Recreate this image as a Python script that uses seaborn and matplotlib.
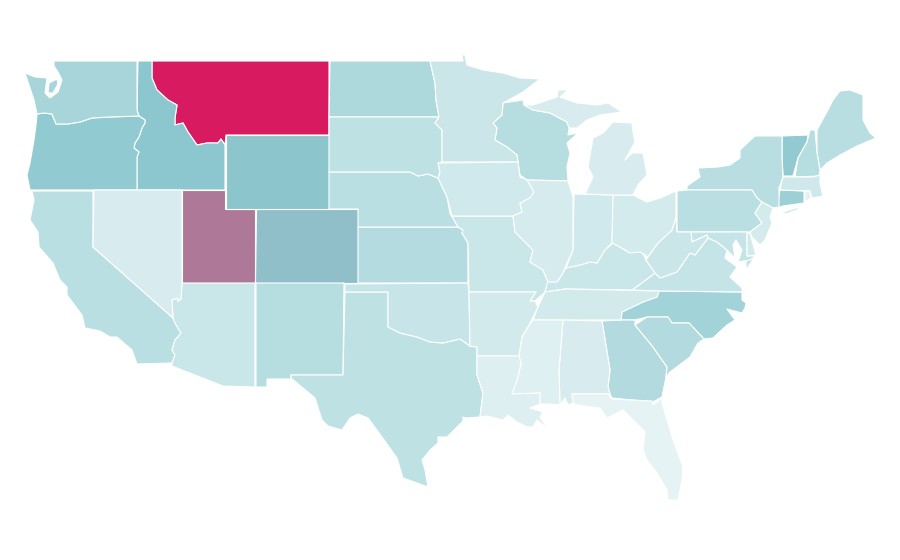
"""Choropleth of the lower 48 states, outlines traced by hand from the reference."""
import matplotlib
matplotlib.use("Agg")
import matplotlib.pyplot as plt
import seaborn as sns

# ── data ─────────────────────────────────────────────────────────────────────
STATES = ["MT","UT","CO","WY","ID","OR","VT","WA","ND","NC","CT","KS","GA","SC","NM","WI",
          "NY","ME","NH","PA","NE","CA","TX","SD","VA","MD","OK","AZ","MO","KY","MN","WV",
          "IN","IA","MA","AR","TN","DE","OH","NJ","IL","NV","MI","AL","MS","LA","RI","FL"]
VALUES = [100, 75, 53, 51, 50, 47, 47, 35, 31, 38, 41, 27, 28, 28, 26, 26,
          25, 25, 26, 24, 24, 24, 22, 22, 18, 18, 17, 16, 16, 16, 15, 15,
          12, 12, 13, 11, 11, 11, 10, 10, 9, 8, 8, 8, 4, 5, 1, 0]
STOPS = ["#E6F3F5", "#B8DEE1", "#8CC8CF", "#AE7999", "#D81B60"]

# outlines, in image pixels
SHAPES = {
 "WA": [[(54,61),(137,61),(137,110),(139,116),(109,117),(92,118),(80,122),(68,124),(56,124),(52,114),(44,113),(37,114),
         (34,100),(29,85),(25,73),(35,77),(47,78),(45,93),(50,98),(58,92),(62,80),(58,72),(54,66)],
        [(49,83),(57,79),(58,84),(53,93),(48,93)]],
 "OR": [[(37,114),(44,113),(52,114),(56,124),(68,124),(80,122),(92,118),(109,117),(139,116),(145,120),(145,123),(142,128),
         (139,137),(135,143),(134,148),(139,152),(137,157),(137,190),(30,190),(27,175),(30,163),(34,140),(36,125)]],
 "ID": [[(138,61),(152,61),(152,78),(157,90),(168,100),(177,105),(175,118),(175,125),(183,123),(188,132),(197,145),
         (207,143),(218,143),(221,139),(225,145),(225,190),(137,190),(137,157),(139,152),(134,148),(135,143),(139,137),
         (142,128),(145,123),(145,120),(139,116),(137,110)]],
 "MT": [[(152,61),(329,61),(329,135),(226,135),(225,145),(221,139),(218,143),(207,143),(197,145),(188,132),(183,123),
         (175,125),(175,118),(177,105),(168,100),(157,90),(152,78)]],
 "WY": [[(226,135),(329,135),(329,209),(226,209)]],
 "CO": [[(256,209),(358,209),(358,283),(255,283)]],
 "UT": [[(182,190),(225,190),(225,209),(255,209),(255,283),(182,283)]],
 "NV": [[(94,190),(182,190),(182,283),(181,299),(178,301),(177,298),(172,300),(173,318),(93,247)]],
 "CA": [[(32,191),(93,191),(93,247),(173,318),(175,323),(181,333),(175,340),(172,350),(175,355),(172,363),(137,364),
         (132,350),(117,337),(110,337),(100,331),(85,328),(82,315),(67,295),(67,287),(60,280),(55,268),(53,263),(39,247),
         (38,232),(30,220),(34,200)]],
 "AZ": [[(182,283),(255,283),(255,387),(223,386),(172,366),(172,363),(175,355),(172,350),(175,340),(181,333),(175,323),
         (173,318),(172,300),(177,298),(178,301),(181,299)]],
 "NM": [[(256,283),(344,283),(343,375),(291,375),(291,379),(267,379),(267,387),(256,387)]],
 "TX": [[(345,292),(388,292),(388,327),(400,333),(417,337),(430,342),(443,343),(460,339),(470,346),(477,347),(477,375),
         (483,393),(480,417),(466,418),(463,417),(463,421),(447,437),(438,437),(438,443),(430,450),(422,460),(425,470),
         (428,487),(417,483),(403,478),(397,458),(382,437),(368,418),(358,414),(350,418),(342,430),(328,426),(322,420),
         (315,398),(291,378),(291,375),(343,375)]],
 "OK": [[(345,284),(468,283),(469,292),(470,346),(460,339),(443,343),(430,342),(417,337),(400,333),(388,327),(388,292),(345,292)]],
 "KS": [[(358,227),(458,227),(463,230),(462,233),(468,243),(468,283),(358,283)]],
 "NE": [[(329,172),(410,172),(418,176),(428,174),(438,178),(447,197),(450,213),(458,227),(358,227),(358,209),(329,209)]],
 "SD": [[(329,117),(439,117),(435,123),(442,130),(442,162),(438,163),(440,172),(438,178),(428,174),(418,176),(410,172),(329,172)]],
 "ND": [[(330,61),(430,61),(435,83),(436,100),(439,117),(329,117)]],
 "MN": [[(430,61),(463,61),(462,55),(465,55),(467,65),(483,70),(503,73),(520,78),(540,79),(523,92),(503,103),(502,115),
         (493,123),(497,128),(495,140),(507,147),(517,155),(518,162),(442,162),(442,130),(435,123),(439,117),(436,100),(435,83)]],
 "WI": [[(503,103),(523,100),(524,105),(533,110),(550,113),(567,122),(569,128),(568,135),(578,133),(567,143),(570,153),
         (567,167),(568,181),(527,180),(520,175),(518,162),(517,155),(507,147),(495,140),(497,128),(493,123),(502,115)]],
 "IA": [[(438,163),(518,162),(520,177),(527,180),(534,192),(530,198),(520,203),(522,212),(513,216),(452,216),(447,197),
         (438,178),(440,172)]],
 "IL": [[(527,180),(568,181),(573,197),(573,250),(567,263),(563,273),(557,282),(548,282),(543,270),(530,262),(533,250),
         (526,243),(515,232),(513,216),(522,212),(520,203),(530,198),(534,192)]],
 "MO": [[(452,216),(513,216),(515,232),(526,243),(533,250),(530,262),(543,270),(548,282),(545,292),(535,301),(530,301),
         (536,292),(469,292),(468,243),(462,233),(463,230),(458,227),(450,213)]],
 "AR": [[(469,292),(536,292),(530,301),(535,301),(538,307),(528,327),(522,337),(519,356),(477,356),(477,347),(470,346)]],
 "LA": [[(477,356),(519,356),(521,363),(518,377),(512,394),(540,393),(540,404),(530,408),(543,412),(540,417),(548,429),
         (537,420),(533,427),(527,427),(517,422),(508,415),(503,420),(487,416),(480,417),(483,393),(477,375)]],
 "MS": [[(533,320),(563,320),(559,370),(560,405),(550,404),(540,404),(540,393),(512,394),(518,377),(521,363),(519,356),
         (522,337),(528,327)]],
 "AL": [[(563,320),(602,321),(610,370),(608,387),(610,394),(572,394),(573,403),(568,405),(565,398),(560,405),(559,370)]],
 "GA": [[(602,321),(621,320),(635,320),(635,325),(653,347),(667,367),(666,377),(662,397),(653,402),(612,398),(610,394),
         (608,387),(610,370)]],
 "SC": [[(635,325),(647,317),(668,317),(672,323),(689,323),(704,339),(698,343),(690,357),(670,372),(666,377),(667,367),(653,347)]],
 "NC": [[(659,291),(742,292),(742,300),(746,303),(745,308),(742,313),(727,309),(735,320),(727,325),(713,338),(704,339),
         (689,323),(672,323),(668,317),(647,317),(635,320),(621,320),(622,312),(643,302),(657,297)]],
 "TN": [[(545,292),(565,289),(659,291),(657,297),(643,302),(622,312),(621,320),(533,320),(538,307)]],
 "KY": [[(545,292),(548,280),(558,281),(566,268),(580,265),(590,262),(597,263),(605,250),(613,243),(628,252),(642,252),
         (646,260),(655,273),(643,282),(632,290),(565,289)]],
 "VA": [[(632,290),(643,282),(655,273),(660,278),(677,272),(690,253),(695,255),(708,238),(717,242),(727,250),(725,258),
         (737,267),(730,277),(742,288),(742,292),(659,291)],
        [(746,258),(754,258),(746,270)]],
 "WV": [[(646,260),(648,257),(658,243),(672,230),(676,217),(677,232),(691,232),(692,242),(707,235),(708,238),(695,255),
         (690,253),(677,272),(660,278),(655,273)]],
 "OH": [[(613,195),(633,195),(647,202),(660,198),(676,191),(676,217),(672,230),(658,243),(648,257),(640,252),(630,253),
         (620,247),(612,243)]],
 "IN": [[(574,194),(613,195),(612,243),(605,250),(597,263),(590,262),(580,265),(566,268),(573,250)]],
 "MI": [[(585,194),(613,195),(633,195),(638,185),(647,175),(643,153),(632,153),(625,160),(635,142),(633,132),(632,123),
         (613,122),(603,133),(593,138),(588,167),(593,177)],
        [(524,105),(533,105),(557,97),(558,90),(568,90),(560,97),(577,103),(597,105),(608,103),(622,112),(600,115),(587,120),
         (577,128),(569,128),(567,122),(550,113),(533,110)]],
 "PA": [[(677,191),(687,190),(752,190),(757,198),(762,202),(755,213),(762,223),(750,232),(677,232)]],
 "NY": [[(687,186),(700,177),(698,168),(718,167),(730,165),(740,158),(740,150),(755,136),(782,136),(782,157),(783,177),
         (779,188),(779,207),(773,208),(762,202),(757,198),(752,190),(687,190)],
        [(777,214),(797,208),(802,208),(788,213)]],
 "NJ": [[(762,202),(773,208),(770,217),(772,223),(765,240),(760,245),(752,237),(750,232),(762,223),(755,213)]],
 "DE": [[(747,233),(750,233),(756,255),(747,256)]],
 "MD": [[(691,232),(747,232),(747,256),(756,256),(750,260),(738,262),(742,250),(736,240),(733,245),(735,258),(727,250),
         (717,242),(708,238),(707,235),(692,242)]],
 "VT": [[(782,136),(808,135),(807,142),(798,158),(793,176),(783,176),(782,157)]],
 "NH": [[(810,130),(815,130),(817,153),(820,170),(819,176),(795,177),(798,158),(807,142)]],
 "ME": [[(817,130),(828,110),(833,100),(840,91),(850,90),(863,95),(863,120),(870,133),(876,138),(857,146),(840,155),
         (827,163),(820,170),(817,153)]],
 "MA": [[(783,177),(813,177),(820,175),(820,183),(823,197),(830,195),(812,198),(810,191),(780,190)]],
 "CT": [[(780,190),(804,191),(804,203),(783,206),(777,208)]],
 "RI": [[(805,191),(810,191),(811,198),(805,202)]],
 "FL": [[(572,394),(608,394),(612,399),(652,401),(653,405),(662,398),(662,403),(673,440),(683,467),(682,480),(678,500),
         (668,500),(667,490),(657,473),(647,460),(643,450),(645,432),(635,422),(623,410),(607,418),(600,408),(577,405),(573,403)]],
}

# ── figure ───────────────────────────────────────────────────────────────────
sns.set_style("white")
cmap = sns.blend_palette(STOPS, n_colors=256, as_cmap=True)

fig, ax = plt.subplots(figsize=(9, 5.6), dpi=100)
fig.subplots_adjust(0, 0, 1, 1)

for state, val in zip(STATES, VALUES):
    for ring in SHAPES[state]:
        xs, ys = zip(*ring)
        ax.fill(xs, ys, facecolor=cmap(val / 100), edgecolor="white", linewidth=0.8, joinstyle="round")

ax.set_xlim(0, 900)
ax.set_ylim(560, 0)
ax.axis("off")

plt.savefig("out.png", dpi=100)
